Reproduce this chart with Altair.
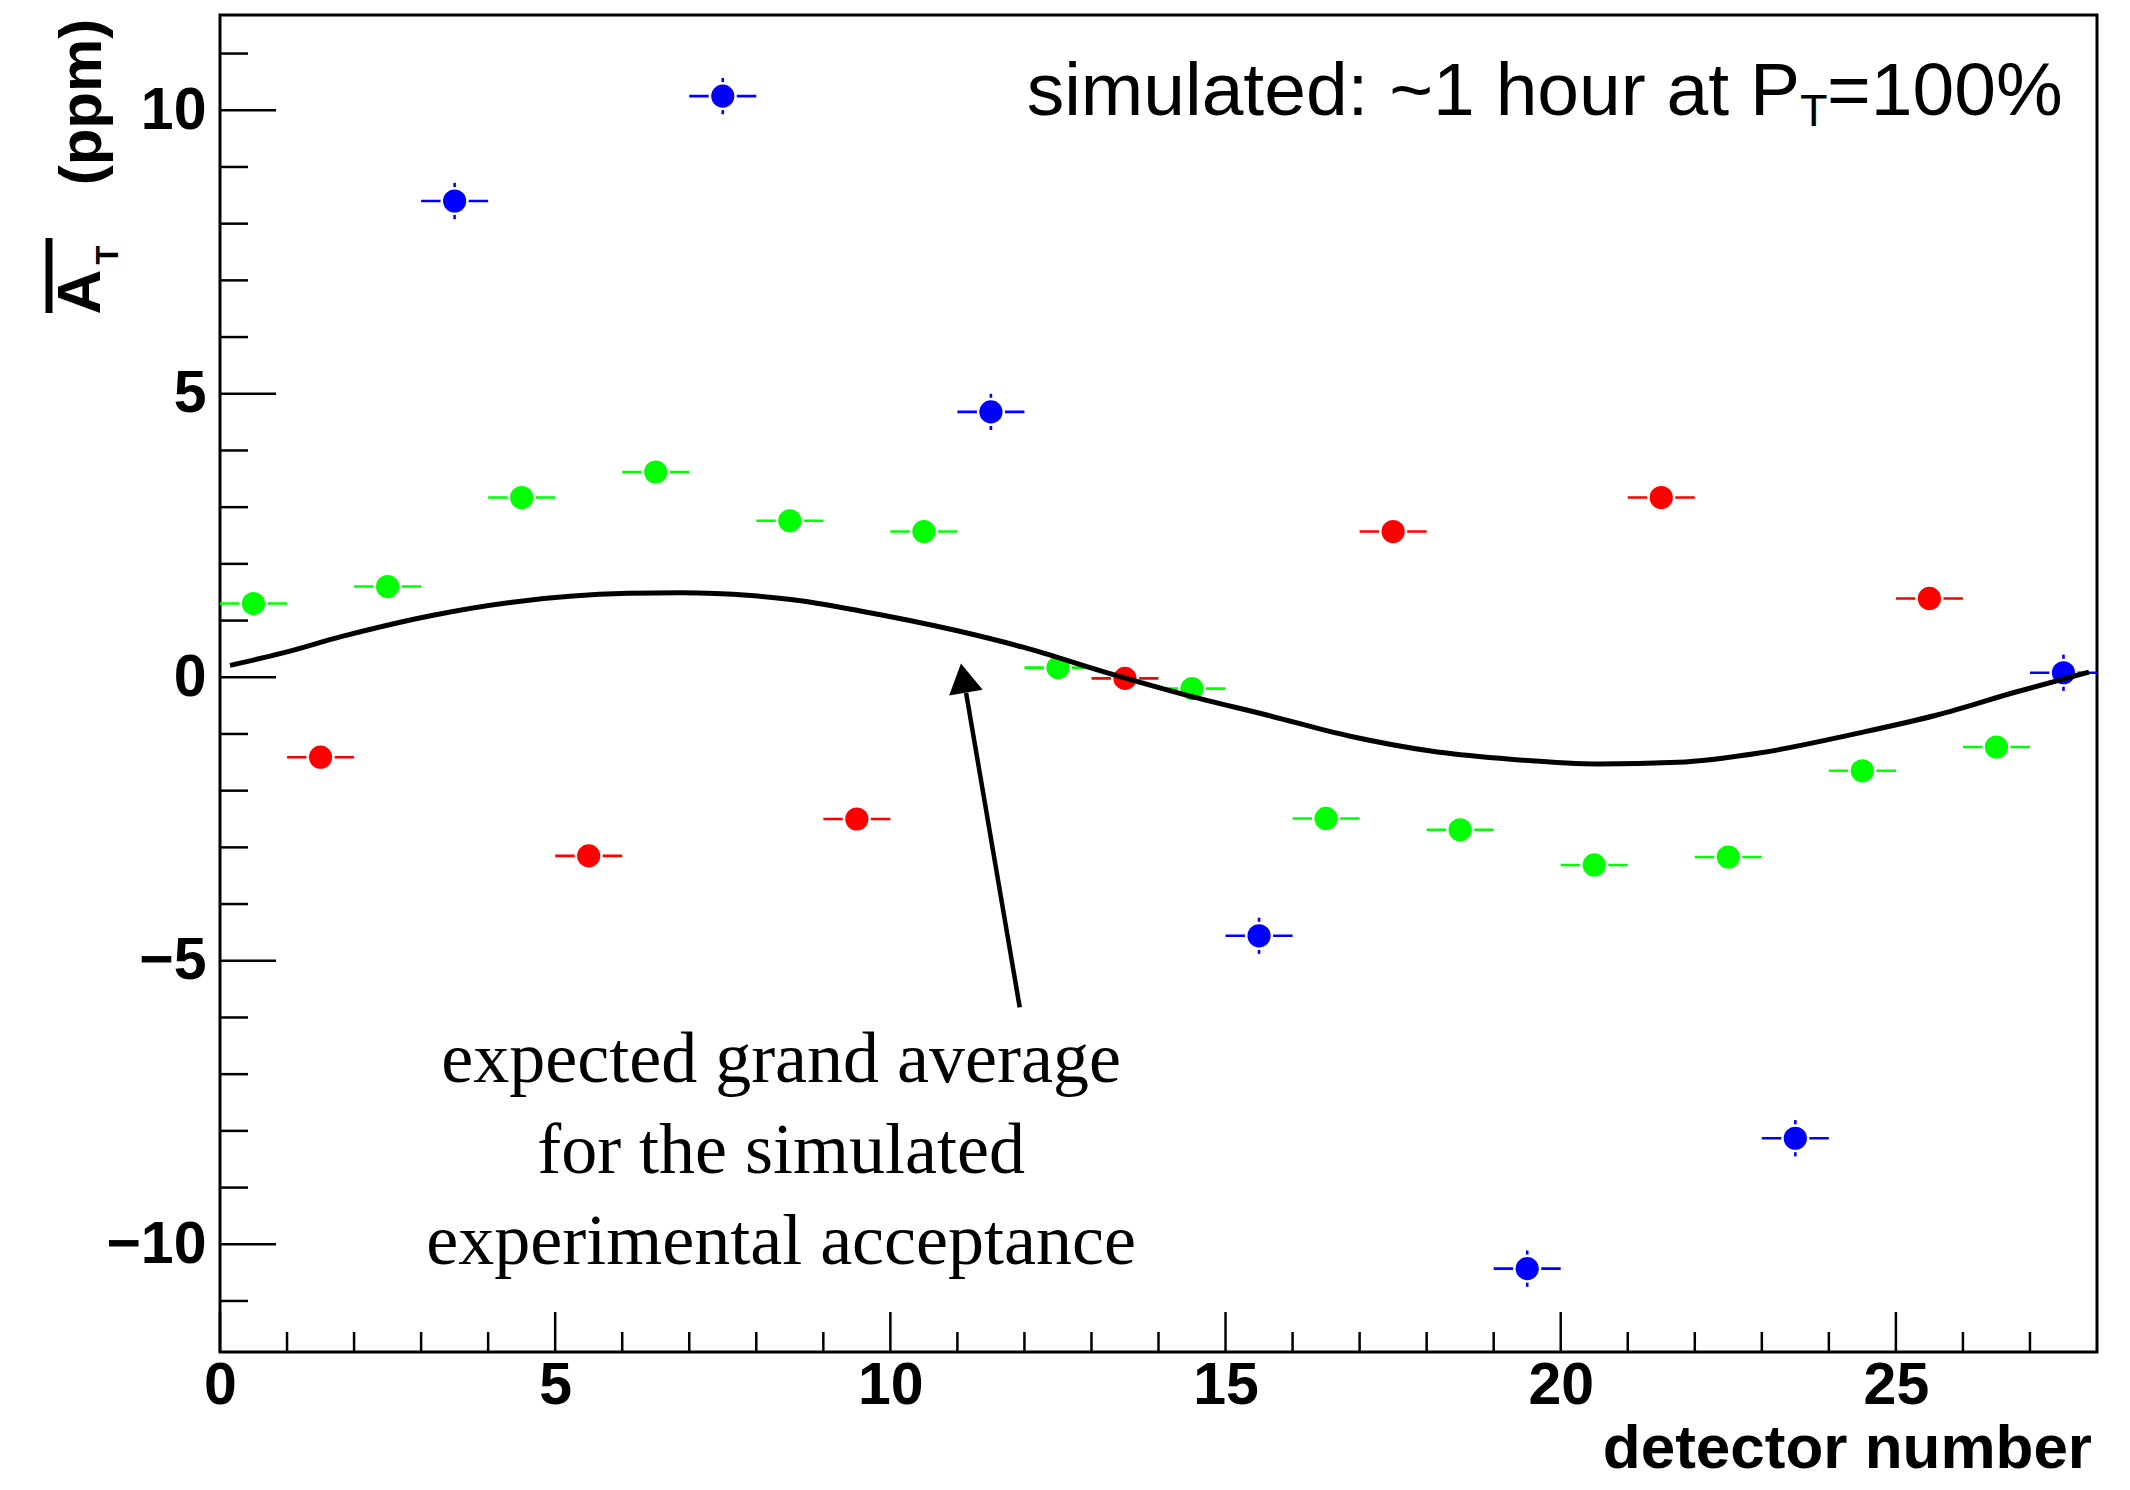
import altair as alt
import pandas as pd

# ---------------- data ----------------
detector = [0.5, 1.5, 2.5, 3.5, 4.5, 5.5, 6.5, 7.5, 8.5, 9.5, 10.5, 11.5, 12.5, 13.5,
            14.5, 15.5, 16.5, 17.5, 18.5, 19.5, 20.5, 21.5, 22.5, 23.5, 24.5, 25.5, 26.5, 27.5]
asym = [1.30, -1.41, 1.60, 8.40, 3.17, -3.15, 3.62, 10.25, 2.76, -2.50, 2.57, 4.68, 0.17, -0.02,
        -0.20, -4.56, -2.49, 2.57, -2.69, -10.43, -3.31, 3.17, -3.17, -8.13, -1.65, 1.39, -1.23, 0.08]
group = ["g", "r", "g", "b", "g", "r", "g", "b", "g", "r", "g", "b", "g", "r",
         "g", "b", "g", "r", "g", "b", "g", "r", "g", "b", "g", "r", "g", "b"]
x_err = [0.5] * 28
y_err = [0.12, 0.12, 0.12, 0.32, 0.12, 0.12, 0.12, 0.32, 0.12, 0.12, 0.12, 0.32, 0.12, 0.12,
         0.12, 0.32, 0.12, 0.12, 0.12, 0.32, 0.12, 0.12, 0.12, 0.32, 0.12, 0.12, 0.12, 0.32]

curve_x = [0.15, 0.91, 1.82, 3.16, 4.33, 6.09, 6.88, 7.92, 8.52, 9.55, 11.0, 11.98, 13.2,
           14.43, 15.63, 16.86, 18.06, 19.09, 20.57, 21.75, 22.94, 24.42, 25.6, 26.79, 27.88]
curve_y = [0.21, 0.42, 0.72, 1.09, 1.32, 1.48, 1.49, 1.44, 1.37, 1.17, 0.82, 0.53, 0.09,
           -0.32, -0.67, -1.04, -1.30, -1.43, -1.53, -1.50, -1.34, -0.99, -0.67, -0.26, 0.09]

x_major = [0, 5, 10, 15, 20, 25]
x_minor = [1, 2, 3, 4, 6, 7, 8, 9, 11, 12, 13, 14, 16, 17, 18, 19, 21, 22, 23, 24, 26, 27]
y_major = [-10, -5, 0, 5, 10]
y_minor = [-11, -9, -8, -7, -6, -4, -3, -2, -1, 1, 2, 3, 4, 6, 7, 8, 9, 11]

x_domain = [0, 28]
y_domain = [-11.9, 11.68]

note_lines = ["expected grand average", "for the simulated", "experimental acceptance"]
note_pos = {"x": 8.37, "y": -7.14}
arrow_tail = {"x": 11.93, "y": -5.82}
arrow_base = {"x": 11.13, "y": -0.275}
arrow_head = {"x": 11.09, "y": -0.014}

group_domain = ["g", "r", "b"]
group_colors = ["#00ff00", "#ff0000", "#0000ff"]

# ---------------- layout ----------------
W, H = 1877, 1337
LABEL_FONT = "Liberation Sans"

df = pd.DataFrame({"x": detector, "y": asym, "grp": group, "xe": x_err, "ye": y_err})
df["xlo"] = df["x"] - df["xe"]
df["xhi"] = df["x"] + df["xe"]
df["ylo"] = df["y"] - df["ye"]
df["yhi"] = df["y"] + df["ye"]

xs = alt.Scale(domain=x_domain, nice=False, zero=False)
ys = alt.Scale(domain=y_domain, nice=False, zero=False)
cs = alt.Scale(domain=group_domain, range=group_colors)

x_axis = alt.Axis(values=x_major, grid=False, ticks=False, domain=False, title=None,
                  labelFont=LABEL_FONT, labelFontSize=59, labelFontWeight="bold",
                  labelColor="black", labelPadding=4, labelFlush=False, labelOverlap=False)
y_axis = alt.Axis(values=y_major, grid=False, ticks=False, domain=False, title=None,
                  labelFont=LABEL_FONT, labelFontSize=59, labelFontWeight="bold",
                  labelColor="black", labelPadding=14, labelFlush=False, labelOverlap=False)


def X(field):
    return alt.X(field, scale=xs, axis=x_axis)


def Y(field):
    return alt.Y(field, scale=ys, axis=y_axis)


base = alt.Chart(df)

hbars = base.mark_rule(strokeWidth=2.6).encode(
    x=X("xlo:Q"), x2="xhi:Q", y=Y("y:Q"),
    color=alt.Color("grp:N", scale=cs, legend=None),
)
vbars = base.mark_rule(strokeWidth=2.6).encode(
    x=X("x:Q"), y=Y("ylo:Q"), y2="yhi:Q",
    color=alt.Color("grp:N", scale=cs, legend=None),
)
points = base.mark_point(filled=True, shape="circle", size=660, stroke="white",
                         strokeWidth=2.5, opacity=1).encode(
    x=X("x:Q"), y=Y("y:Q"),
    fill=alt.Color("grp:N", scale=cs, legend=None),
)

curve = alt.Chart(pd.DataFrame({"cx": curve_x, "cy": curve_y})).mark_line(
    color="black", strokeWidth=5, interpolate="monotone").encode(
    x=X("cx:Q"), y=Y("cy:Q"),
)


# inward ticks
def xticks(vals, length):
    return alt.Chart(pd.DataFrame({"v": vals})).mark_rule(color="black", strokeWidth=2.5).encode(
        x=X("v:Q"), y=alt.value(H), y2=alt.value(H - length))


def yticks(vals, length):
    return alt.Chart(pd.DataFrame({"v": vals})).mark_rule(color="black", strokeWidth=2.5).encode(
        y=Y("v:Q"), x=alt.value(0), x2=alt.value(length))


ticks = [xticks(x_major, 40), xticks(x_minor, 20), yticks(y_major, 56), yticks(y_minor, 28)]

# annotation note + arrow
note = alt.Chart(pd.DataFrame({"t": [note_lines], "x": [note_pos["x"]], "y": [note_pos["y"]]})).mark_text(
    font="Liberation Serif", fontSize=72, align="center", baseline="alphabetic",
    lineHeight=91, color="black").encode(x=X("x:Q"), y=Y("y:Q"), text="t")

arrow_line = alt.Chart(pd.DataFrame({"x": [arrow_tail["x"]], "y": [arrow_tail["y"]],
                                     "x2": [arrow_base["x"]], "y2": [arrow_base["y"]]})).mark_rule(
    color="black", strokeWidth=4.5).encode(x=X("x:Q"), y=Y("y:Q"), x2="x2:Q", y2="y2:Q")
arrow_tip = alt.Chart(pd.DataFrame({"x": [arrow_head["x"]], "y": [arrow_head["y"]]})).mark_point(
    shape="triangle-up", size=1156, filled=True, color="black", opacity=1, angle=350.3).encode(
    x=X("x:Q"), y=Y("y:Q"))


# titles
def label(text, x, y, size, weight="normal", align="center", angle=0, font=LABEL_FONT):
    kw = dict(font=font, fontSize=size, fontWeight=weight, align=align,
              baseline="alphabetic", color="black")
    if angle:
        kw["angle"] = angle
    return alt.Chart(pd.DataFrame({"t": [text]})).mark_text(**kw).encode(
        x=alt.value(x), y=alt.value(y), text="t:N")


top_main = label("simulated: ~1 hour at P", 1580, 100, 75, align="right")
top_sub = label("T", 1580, 111, 45, align="left")
top_end = label("=100%", 1607, 100, 75, align="left")

x_title = label("detector number", 1872, 1453, 62, weight="bold", align="right")

y_ppm = label("(ppm)", -119, 87, 60, weight="bold", angle=270)
y_A = label("A", -120, 277, 62, weight="bold", angle=270)
y_T = label("T", -102, 240, 31, weight="bold", angle=270)
y_bar = alt.Chart(pd.DataFrame({"a": [0]})).mark_rule(color="black", strokeWidth=7).encode(
    x=alt.value(-171), y=alt.value(223), y2=alt.value(298))

chart = alt.layer(
    hbars, vbars, points, curve, *ticks, note, arrow_line, arrow_tip,
    top_main, top_sub, top_end, x_title, y_ppm, y_A, y_T, y_bar,
).properties(
    width=W, height=H,
    autosize=alt.AutoSizeParams(type="none"),
    padding={"left": 212, "top": 7, "right": 20, "bottom": 130},
).configure_view(stroke="black", strokeWidth=3)

chart.save("out.html", embed_options={"renderer": "svg", "actions": False})
